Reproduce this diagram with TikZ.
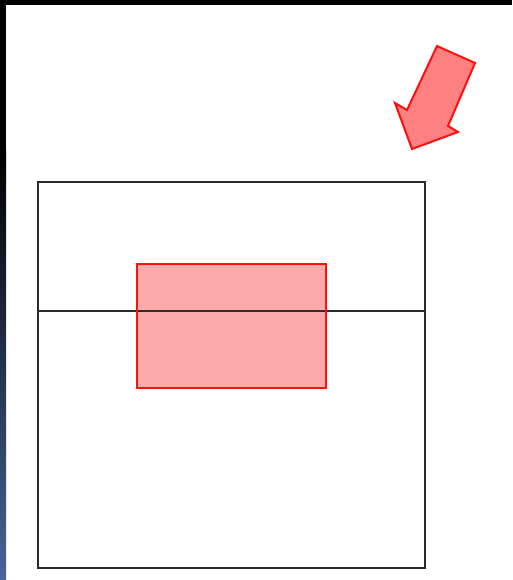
\documentclass[tikz,border=0pt]{standalone}
\usepackage{xcolor}
\usepackage{tikz}
\definecolor{framegray}{HTML}{2B2B2B}
\definecolor{edgeblue}{HTML}{4A6494}
\definecolor{markred}{HTML}{FF1010}
\definecolor{markfill}{HTML}{FFAAAA}
\definecolor{arrowfill}{HTML}{FF8080}
\begin{document}
\begin{tikzpicture}[
    x=1pt, y=-1pt,
    frame/.style={draw=framegray, line width=1.4pt},
    marker/.style={draw=markred, line width=2pt, line join=miter},
]
\useasboundingbox (0,0) rectangle (512,580);
% Screen edges
\fill[white] (0,0) rectangle (512,580);
\fill[black] (0,0) rectangle (512,5);
\fill[black] (0,0) rectangle (6,150);
\shade[top color=black, bottom color=edgeblue] (0,150) rectangle (6,580);
% Outer box and divider
\coordinate (boxnw) at (38,182);
\coordinate (boxse) at (425,568);
\draw[frame] (boxnw) rectangle (boxse);
\coordinate (divw) at (38,311);
\coordinate (dive) at (425,311);
% Highlighted area
\fill[markfill] (137,264) rectangle (326,388);
\draw[frame, line width=1.2pt] (divw) -- (dive);
\draw[marker] (137,264) rectangle (326,388);
% Pointer arrow
\draw[marker, fill=arrowfill] (437,46) -- (475,63) -- (448,126) -- (458,132)
    -- (412,149) -- (395,103) -- (407,110) -- cycle;
\end{tikzpicture}
\end{document}
